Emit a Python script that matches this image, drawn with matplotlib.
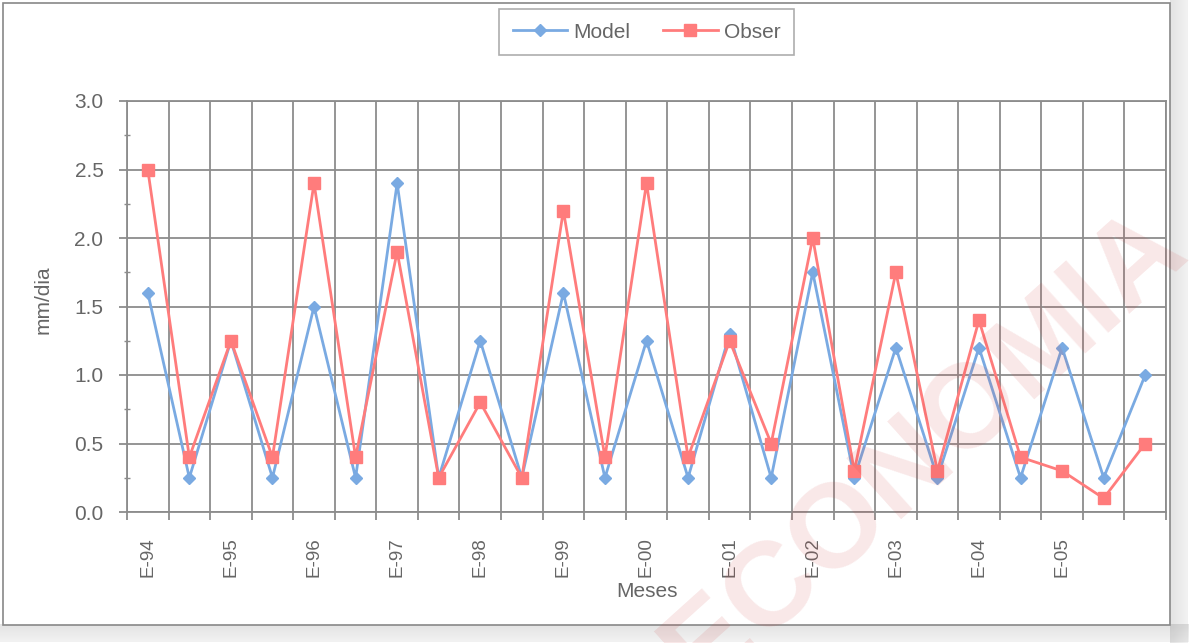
import numpy as np
import matplotlib.pyplot as plt
from matplotlib.patches import Rectangle

plt.rcParams['font.family'] = ['Liberation Sans', 'DejaVu Sans']

labels = ['E-94', 'E-95', 'E-96', 'E-97', 'E-98', 'E-99',
          'E-00', 'E-01', 'E-02', 'E-03', 'E-04', 'E-05']
model = [1.6, 0.25, 1.25, 0.25, 1.5, 0.25, 2.4, 0.25, 1.25, 0.25, 1.6, 0.25,
         1.25, 0.25, 1.3, 0.25, 1.75, 0.25, 1.2, 0.25, 1.2, 0.25, 1.2, 0.25, 1.0]
obser = [2.5, 0.4, 1.25, 0.4, 2.4, 0.4, 1.9, 0.25, 0.8, 0.25, 2.2, 0.4,
         2.4, 0.4, 1.25, 0.5, 2.0, 0.3, 1.75, 0.3, 1.4, 0.4, 0.3, 0.1, 0.5]

W, H = 1189, 643
txt = '#666666'
grid = '#8c8c8c'

fig = plt.figure(figsize=(W / 100, H / 100), dpi=100)

# frame with a soft shadow on the right and bottom
for i in range(18):
    a = 0.06 * (1 - i / 18) + 0.05
    fig.patches.append(Rectangle(((1170 + i) / W, 0), 1 / W, 1, transform=fig.transFigure,
                                 facecolor='black', alpha=a, edgecolor='none', zorder=-3))
    fig.patches.append(Rectangle((0, (18 - i) / H), 1, 1 / H, transform=fig.transFigure,
                                 facecolor='black', alpha=a, edgecolor='none', zorder=-3))
fig.patches.append(Rectangle((3 / W, 18 / H), 1167 / W, (H - 21) / H, transform=fig.transFigure,
                             facecolor='white', edgecolor='#888888', linewidth=1.2, zorder=-2))

ax = fig.add_axes([127 / W, 1 - 512 / H, (1166 - 127) / W, (512 - 101) / H])
ax.set_facecolor('none')

x = np.arange(len(model))
ax.plot(x, model, color='#7aaae2', lw=2, marker='D', ms=6.5, label='Model', zorder=3)
ax.plot(x, obser, color='#ff7c7c', lw=2, marker='s', ms=9, label='Obser', zorder=3)

ax.set_xlim(-0.5, len(model) - 0.5)
ax.set_ylim(0, 3)
ax.set_yticks(np.arange(0, 3.01, 0.5))
ax.set_yticks(np.arange(0.25, 3, 0.5), minor=True)
ax.set_yticklabels([f'{v:.1f}' for v in np.arange(0, 3.01, 0.5)])
ax.set_xticks(np.arange(0, 2 * len(labels), 2))
ax.set_xticklabels(labels, rotation=90)
ax.set_xticks(np.arange(-0.5, len(model), 1.0), minor=True)

ax.grid(True, axis='y', which='major', color=grid, lw=1.3)
ax.grid(True, axis='x', which='minor', color=grid, lw=1.3)
ax.set_axisbelow(True)
for s in ax.spines.values():
    s.set_color(grid)
    s.set_linewidth(1.3)

ax.tick_params(axis='x', which='major', length=0, pad=18, labelsize=13.5, labelcolor=txt)
ax.tick_params(axis='x', which='minor', length=6, width=1.3, color=grid, direction='out')
ax.tick_params(axis='y', which='major', length=6, width=1.3, color=grid, pad=11,
               labelsize=15, labelcolor=txt)
ax.tick_params(axis='y', which='minor', length=5, width=1, color=grid, direction='inout')

ax.set_xlabel('Meses', fontsize=15, color=txt, labelpad=4)
ax.set_ylabel('mm/dia', fontsize=15, color=txt)
ax.yaxis.set_label_coords((53 - 127) / (1166 - 127), (512 - 300) / (512 - 101))

leg = ax.legend(loc='center', bbox_to_anchor=(0.5, (512 - 32) / (512 - 101)),
                ncol=2, fontsize=15, frameon=True, fancybox=False, handlelength=2.6,
                handletextpad=0.3, columnspacing=1.6, borderpad=0.65, labelcolor=txt)
leg.get_frame().set_edgecolor('#999999')
leg.get_frame().set_linewidth(1.2)

fig.text(925 / W, 1 - 450 / H, 'ECONOMIA', fontsize=86, fontweight='bold', rotation=42,
         color='#d04040', alpha=0.12, ha='center', va='center', zorder=10)

fig.savefig('out.png', dpi=100)
